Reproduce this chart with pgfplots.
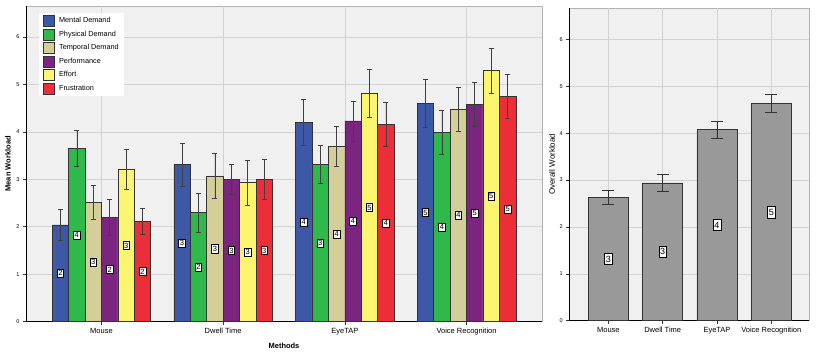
\documentclass[border=0pt]{standalone}
\usepackage{pgfplots}
\usepackage{pgfplotstable}
\pgfplotsset{compat=1.18}
\usepackage{fontspec}
\setmainfont{Liberation Sans}

\definecolor{cMental}{RGB}{61,88,166}
\definecolor{cPhys}{RGB}{48,185,75}
\definecolor{cTemp}{RGB}{212,207,152}
\definecolor{cPerf}{RGB}{123,37,128}
\definecolor{cEff}{RGB}{251,245,112}
\definecolor{cFrus}{RGB}{236,46,56}

% x = method (0 Mouse, 1 Dwell Time, 2 EyeTAP, 3 Voice Recognition)
% value, half error bar, rounded label for each subscale
\pgfplotstableread{
x md   mde  mdl pd   pde  pdl td   tde  tdl pf   pfe  pfl ef   efe  efl fr   fre  frl
0 2.04 0.32 2   3.65 0.38 4   2.51 0.36 3   2.20 0.37 2   3.21 0.43 3   2.11 0.27 2
1 3.31 0.45 3   2.30 0.41 2   3.07 0.48 3   3.00 0.32 3   2.93 0.47 3   3.00 0.42 3
2 4.20 0.48 4   3.31 0.40 3   3.69 0.42 4   4.23 0.42 4   4.81 0.50 5   4.16 0.47 4
3 4.60 0.51 5   3.99 0.47 4   4.48 0.46 4   4.58 0.46 5   5.29 0.47 5   4.75 0.46 5
}\subscales

\pgfplotstableread{
x ov   ove   ovl
0 2.63 0.15  3
1 2.94 0.175 3
2 4.08 0.18  4
3 4.63 0.195 5
}\overall

\pgfplotsset{
  sqleg/.style={legend image code/.code={\draw[##1] (0pt,-5.5pt) rectangle (11pt,5.5pt);}},
  sbar/.style={ybar, bar width=0.135, bar shift=0, draw=black!80, line width=0.5pt, sqleg,
    error bars/y dir=both, error bars/y explicit,
    error bars/error bar style={black!75, line width=0.6pt},
    error bars/error mark options={rotate=90, mark size=2.5pt, black!75, line width=0.6pt}},
  blab/.style={forget plot, draw=none, mark=none, nodes near coords, point meta=explicit symbolic,
    every node near coord/.append style={anchor=center, draw=black, fill=white,
      inner xsep=1.2pt, inner ysep=1.5pt, line width=0.6pt, font=\fontsize{7.5}{8}\selectfont}},
}

\begin{document}
\begin{tikzpicture}
\path[use as bounding box] (0pt,0pt) rectangle (822pt,355pt);

\begin{axis}[
  at={(26pt,33.3pt)}, anchor=south west,
  scale only axis, width=516pt, height=315.7pt,
  xmin=-0.62, xmax=3.62, ymin=0, ymax=6.65,
  xtick={0,1,2,3},
  xticklabels={Mouse, Dwell Time, EyeTAP, Voice Recognition},
  ytick={0,1,2,3,4,5,6},
  /pgf/number format/assume math mode=true,
  xticklabel style={font=\fontsize{7.5}{9}\selectfont},
  yticklabel style={font=\fontsize{5.5}{6}\selectfont},
  tick align=outside, major tick length=3pt,
  tick style={black!80, line width=0.5pt},
  axis x line*=bottom, axis y line*=left,
  axis line style={black, line width=0.7pt, -},
  axis background/.style={fill=gray!12, draw=gray!60},
  grid=major, major grid style={gray!35, line width=0.6pt},
  ylabel={\bfseries Mean Workload},
  ylabel style={at={(axis description cs:-0.035,0.5)}, anchor=center, font=\fontsize{7.5}{9}\selectfont},
  xlabel={\bfseries Methods},
  xlabel style={at={(axis description cs:0.5,-0.077)}, anchor=center, font=\fontsize{7.5}{9}\selectfont},
  legend style={at={(axis description cs:0.025,0.978)}, anchor=north west,
    draw=none, fill=white, font=\fontsize{7.3}{8}\selectfont,
    inner xsep=4pt, inner ysep=2pt, nodes={inner sep=1.5pt}, row sep=2pt, column sep=3pt},
  legend cell align=left,
]
% bars are placed at their own x (category + offset), so error bars sit on them
\addplot[fill=cMental, sbar] table[x expr=\thisrow{x}-0.3375, y=md, y error=mde] {\subscales};
\addplot[fill=cPhys,   sbar] table[x expr=\thisrow{x}-0.2025, y=pd, y error=pde] {\subscales};
\addplot[fill=cTemp,   sbar] table[x expr=\thisrow{x}-0.0675, y=td, y error=tde] {\subscales};
\addplot[fill=cPerf,   sbar] table[x expr=\thisrow{x}+0.0675, y=pf, y error=pfe] {\subscales};
\addplot[fill=cEff,    sbar] table[x expr=\thisrow{x}+0.2025, y=ef, y error=efe] {\subscales};
\addplot[fill=cFrus,   sbar] table[x expr=\thisrow{x}+0.3375, y=fr, y error=fre] {\subscales};
\legend{Mental Demand, Physical Demand, Temporal Demand, Performance, Effort, Frustration}

\addplot[blab] table[x expr=\thisrow{x}-0.3375, y expr=0.5*\thisrow{md}, meta=mdl] {\subscales};
\addplot[blab] table[x expr=\thisrow{x}-0.2025, y expr=0.5*\thisrow{pd}, meta=pdl] {\subscales};
\addplot[blab] table[x expr=\thisrow{x}-0.0675, y expr=0.5*\thisrow{td}, meta=tdl] {\subscales};
\addplot[blab] table[x expr=\thisrow{x}+0.0675, y expr=0.5*\thisrow{pf}, meta=pfl] {\subscales};
\addplot[blab] table[x expr=\thisrow{x}+0.2025, y expr=0.5*\thisrow{ef}, meta=efl] {\subscales};
\addplot[blab] table[x expr=\thisrow{x}+0.3375, y expr=0.5*\thisrow{fr}, meta=frl] {\subscales};
\end{axis}

\begin{axis}[
  at={(569.3pt,34.3pt)}, anchor=south west,
  scale only axis, width=240pt, height=312.7pt,
  xmin=-0.72, xmax=3.70, ymin=0, ymax=6.67,
  xtick={0,1,2,3},
  xticklabels={Mouse, Dwell Time, EyeTAP, Voice Recognition},
  ytick={0,1,2,3,4,5,6},
  /pgf/number format/assume math mode=true,
  xticklabel style={font=\fontsize{7.5}{9}\selectfont},
  yticklabel style={font=\fontsize{5.5}{6}\selectfont},
  tick align=outside, major tick length=3pt,
  tick style={black!80, line width=0.5pt},
  axis x line*=bottom, axis y line*=left,
  axis line style={black, line width=0.7pt, -},
  axis background/.style={fill=gray!12, draw=gray!60},
  grid=major, major grid style={gray!35, line width=0.6pt},
  ylabel={Overall Workload},
  ylabel style={at={(axis description cs:-0.072,0.5)}, anchor=center, font=\fontsize{8}{9}\selectfont},
]
\addplot[ybar, bar width=0.74, bar shift=0, fill=gray!80, draw=black!80, line width=0.6pt,
  error bars/.cd, y dir=both, y explicit,
  error bar style={black!80, line width=0.7pt},
  error mark options={rotate=90, mark size=6pt, black!80, line width=0.7pt}]
  table[x=x, y=ov, y error=ove] {\overall};
\addplot[forget plot, draw=none, mark=none, nodes near coords, point meta=explicit symbolic,
  every node near coord/.append style={anchor=center, draw=black, fill=white,
    inner xsep=1.3pt, inner ysep=2.5pt, line width=0.6pt, font=\fontsize{9}{10}\selectfont}]
  table[x=x, y expr=0.5*\thisrow{ov}, meta=ovl] {\overall};
\end{axis}
\end{tikzpicture}
\end{document}
